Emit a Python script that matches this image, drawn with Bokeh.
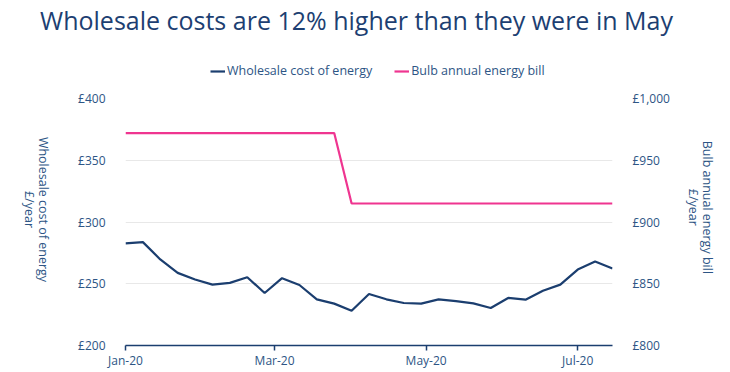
import math
from datetime import datetime
from bokeh.plotting import figure
from bokeh.layouts import column, row
from bokeh.models import (ColumnDataSource, LinearAxis, Range1d, FixedTicker, Label,
                          MonthsTicker, DatetimeTickFormatter, Legend, LegendItem)
from bokeh.embed import file_html
from bokeh.resources import INLINE

# ---------------- data ----------------
title_text = "Wholesale costs are 12% higher than they were in May"
series_names = ["Wholesale cost of energy", "Bulb annual energy bill"]
left_axis_title = ["Wholesale cost of energy", "£/year"]
right_axis_title = ["Bulb annual energy bill", "£/year"]

week_starts = ["2020-01-01", "2020-01-08", "2020-01-15", "2020-01-22", "2020-01-29",
               "2020-02-05", "2020-02-12", "2020-02-19", "2020-02-26", "2020-03-04",
               "2020-03-11", "2020-03-18", "2020-03-25", "2020-04-01", "2020-04-08",
               "2020-04-15", "2020-04-22", "2020-04-29", "2020-05-06", "2020-05-13",
               "2020-05-20", "2020-05-27", "2020-06-03", "2020-06-10", "2020-06-17",
               "2020-06-24", "2020-07-01", "2020-07-08", "2020-07-15"]
wholesale = [282.7, 283.7, 269.7, 258.8, 253.4, 249.3, 250.7, 255.3, 242.5, 254.5,
             249.0, 237.4, 233.9, 228.2, 241.7, 237.4, 234.4, 233.9, 237.4, 236.0,
             234.1, 230.4, 238.5, 237.1, 244.4, 249.3, 261.5, 268.0, 262.3]
bulb_bill = [972, 972, 972, 972, 972, 972, 972, 972, 972, 972,
             972, 972, 972, 915, 915, 915, 915, 915, 915, 915,
             915, 915, 915, 915, 915, 915, 915, 915, 915]
left_ticks = [200, 250, 300, 350, 400]
left_labels = ["£200", "£250", "£300", "£350", "£400"]
right_ticks = [800, 850, 900, 950, 1000]
right_labels = ["£800", "£850", "£900", "£950", "£1,000"]
x_tick_months = [0, 2, 4, 6]

# ---------------- style ----------------
NAVY = "#1b3e6f"
PINK = "#ef3590"
TEXT = "#2d5585"
TITLE_C = "#1d3f72"
GRID = "#e8e8e8"
FONT = "Open Sans"
FS = "12.5px"
TICK_FS = "12px"
NB = "\u00a0"
W = 728
HEAD_H = 80
MAIN_H = 292
SIDE_W = 60


def plain(fig):
    fig.outline_line_color = None
    fig.background_fill_color = "white"
    fig.border_fill_color = "white"
    if "frame_align" in fig.properties():
        fig.frame_align = False


# ---------------- header: title + legend ----------------
head = figure(width=W, height=HEAD_H, x_range=Range1d(0, W), y_range=Range1d(HEAD_H, 0),
              output_backend="svg", toolbar_location=None, min_border=0,
              x_axis_location=None, y_axis_location=None, title=None)
plain(head)
head.grid.visible = False
head.add_layout(Label(x=356, y=19, text=title_text, text_align="center",
                      text_baseline="alphabetic", text_font=FONT,
                      text_font_size="25px", text_color=TITLE_C))
k1 = head.line(x=[-50, -40], y=[-50, -40], line_color=NAVY, line_width=2.2)
k2 = head.line(x=[-50, -40], y=[-50, -40], line_color=PINK, line_width=2.2)
head.add_layout(Legend(items=[LegendItem(label=series_names[0], renderers=[k1]),
                              LegendItem(label=series_names[1], renderers=[k2])],
                       orientation="horizontal", location=(210, 1),
                       glyph_width=15, glyph_height=14, label_standoff=2, spacing=22,
                       padding=0, margin=0, border_line_color=None,
                       background_fill_alpha=0, label_text_font=FONT,
                       label_text_font_size=FS, label_text_color=TEXT))

# ---------------- left axis title ----------------
side = figure(width=SIDE_W, height=MAIN_H, x_range=Range1d(0, SIDE_W),
              y_range=Range1d(MAIN_H, 0), output_backend="svg", toolbar_location=None,
              min_border=0, x_axis_location=None, y_axis_location=None, title=None)
plain(side)
side.grid.visible = False
side.add_layout(Label(x=36, y=129, text="\n".join(left_axis_title), angle=-math.pi / 2,
                      text_align="center", text_baseline="middle", text_font=FONT,
                      text_font_size=FS, text_color=TEXT, text_line_height=0.85))

# ---------------- main chart ----------------
dates = [datetime.strptime(d, "%Y-%m-%d") for d in week_starts]
src = ColumnDataSource(dict(date=dates, wholesale=wholesale, bill=bulb_bill))

p = figure(width=W - SIDE_W, height=MAIN_H, x_axis_type="datetime",
           x_range=Range1d(dates[0], dates[-1]), y_range=Range1d(200, 400),
           output_backend="svg", toolbar_location=None, title=None,
           min_border_left=125 - SIDE_W, min_border_right=116, min_border_top=18,
           min_border_bottom=27)
plain(p)
p.extra_y_ranges = {"bill": Range1d(800, 1000)}

p.line("date", "wholesale", source=src, line_color=NAVY, line_width=2.2)
p.line("date", "bill", source=src, line_color=PINK, line_width=2.2, y_range_name="bill")

xa = p.xaxis[0]
xa.ticker = MonthsTicker(months=x_tick_months)
fmt = "%b-%y"
xa.formatter = DatetimeTickFormatter(years=fmt, months=fmt, days=fmt, hours=fmt,
                                     minutes=fmt, seconds=fmt, milliseconds=fmt,
                                     microseconds=fmt, hourmin=fmt, minsec=fmt)
xa.axis_line_color = NAVY
xa.axis_line_width = 1.5
xa.major_tick_line_color = NAVY
xa.major_tick_line_width = 1.5
xa.major_tick_out = 5
xa.major_tick_in = 0
xa.minor_tick_line_color = None
xa.major_label_standoff = 1
xa.major_label_text_font = FONT
xa.major_label_text_font_size = TICK_FS
xa.major_label_text_color = TEXT


def style_y(ax, standoff):
    ax.axis_line_color = None
    ax.major_tick_line_color = None
    ax.minor_tick_line_color = None
    ax.major_label_standoff = standoff
    ax.major_label_text_font = FONT
    ax.major_label_text_font_size = TICK_FS
    ax.major_label_text_color = TEXT


ya = p.yaxis[0]
ya.ticker = FixedTicker(ticks=left_ticks)
ya.major_label_overrides = dict(zip(left_ticks, left_labels))
style_y(ya, 14)

ra = LinearAxis(y_range_name="bill", ticker=FixedTicker(ticks=right_ticks))
ra.major_label_overrides = dict(zip(right_ticks, right_labels))
style_y(ra, 14)
ra.axis_label = "\n".join(line + NB * 9 for line in right_axis_title)
ra.axis_label_standoff = 12
ra.axis_label_text_font = FONT
ra.axis_label_text_font_size = FS
ra.axis_label_text_font_style = "normal"
ra.axis_label_text_color = TEXT
ra.axis_label_text_line_height = 0.85
p.add_layout(ra, "right")

p.xgrid.grid_line_color = None
p.ygrid.grid_line_color = GRID
p.ygrid.grid_line_width = 1

layout = column(head, row(side, p, spacing=0), spacing=0)
open("out.html", "w").write(file_html(layout, INLINE))
